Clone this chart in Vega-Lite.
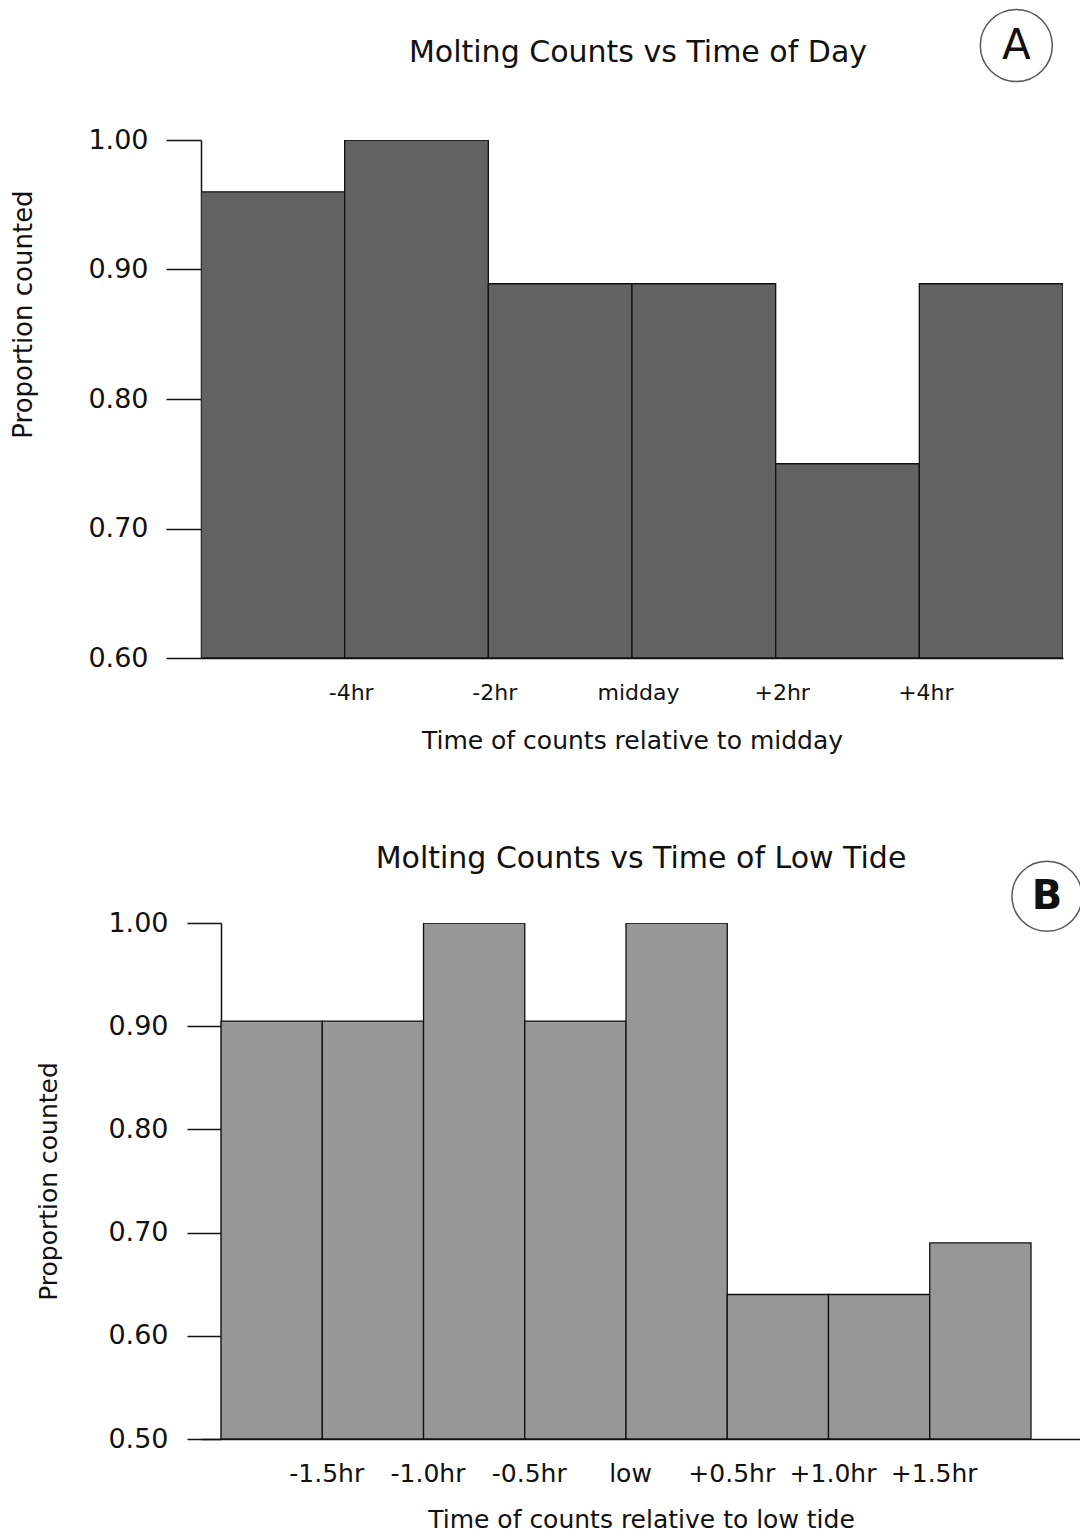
{
  "$schema": "https://vega.github.io/schema/vega-lite/v6.json",
  "background": "white",
  "padding": {"left": 10, "top": 6, "right": 0, "bottom": 0},
  "spacing": 91,
  "config": {
    "font": "DejaVu Sans",
    "view": {"stroke": null},
    "axis": {
      "grid": false,
      "domainColor": "#111",
      "domainWidth": 1.5,
      "tickColor": "#111",
      "tickWidth": 1.5,
      "labelColor": "#111",
      "titleColor": "#111",
      "labelFont": "DejaVu Sans",
      "titleFont": "DejaVu Sans",
      "titleFontWeight": "normal",
      "titleFontSize": 25
    },
    "title": {"font": "DejaVu Sans", "fontSize": 30, "fontWeight": "normal", "color": "#111"}
  },
  "vconcat": [
    {
      "title": {"text": "Molting Counts vs Time of Day", "offset": -62, "dx": 6},
      "width": 862,
      "height": 518,
      "layer": [
        {
          "data": {
            "values": [
              {"hour_start": -6, "hour_end": -4, "proportion": 0.96},
              {"hour_start": -4, "hour_end": -2, "proportion": 1.0},
              {"hour_start": -2, "hour_end": 0, "proportion": 0.889},
              {"hour_start": 0, "hour_end": 2, "proportion": 0.889},
              {"hour_start": 2, "hour_end": 4, "proportion": 0.75},
              {"hour_start": 4, "hour_end": 6, "proportion": 0.889}
            ]
          },
          "mark": {"type": "bar", "fill": "#626262", "stroke": "#111", "strokeWidth": 1.3, "clip": true},
          "encoding": {
            "x": {
              "field": "hour_start",
              "type": "quantitative",
              "scale": {"domain": [-6, 6], "nice": false, "zero": false},
              "axis": {
                "title": "Time of counts relative to midday",
                "values": [-4, -2, 0, 2, 4],
                "labelExpr": "datum.value === 0 ? 'midday' : (datum.value < 0 ? '-' : '+') + abs(datum.value) + 'hr'",
                "ticks": false,
                "labelFontSize": 22,
                "labelPadding": 24,
                "labelOffset": 6,
                "titlePadding": 25
              }
            },
            "x2": {"field": "hour_end"},
            "y": {
              "field": "proportion",
              "type": "quantitative",
              "scale": {"domain": [0.6, 1.0], "nice": false, "zero": false},
              "axis": {
                "title": "Proportion counted",
                "titleFontSize": 26,
                "titleY": 174,
                "values": [0.6, 0.7, 0.8, 0.9, 1.0],
                "format": ".2f",
                "tickSize": 35,
                "labelFontSize": 27,
                "labelPadding": 18,
                "titlePadding": 51
              }
            },
            "y2": {"datum": 0.6}
          }
        },
        {
          "data": {"values": [{"panel": "A"}]},
          "mark": {"type": "point", "shape": "circle", "size": 5184, "stroke": "#111", "strokeWidth": 1.5, "filled": false, "clip": false},
          "encoding": {
            "x": {"datum": 5.35, "type": "quantitative"},
            "y": {"datum": 1.073, "type": "quantitative"}
          }
        },
        {
          "data": {"values": [{"panel": "A"}]},
          "mark": {"type": "text", "fontSize": 42, "color": "#111", "baseline": "middle", "align": "center", "dy": 1, "clip": false},
          "encoding": {
            "x": {"datum": 5.35, "type": "quantitative"},
            "y": {"datum": 1.073, "type": "quantitative"},
            "text": {"field": "panel"}
          }
        }
      ]
    },
    {
      "title": {"text": "Molting Counts vs Time of Low Tide", "offset": -16},
      "width": 880,
      "height": 516,
      "layer": [
        {
          "data": {
            "values": [
              {"hour_start": -2.0, "hour_end": -1.5, "proportion": 0.905},
              {"hour_start": -1.5, "hour_end": -1.0, "proportion": 0.905},
              {"hour_start": -1.0, "hour_end": -0.5, "proportion": 1.0},
              {"hour_start": -0.5, "hour_end": 0.0, "proportion": 0.905},
              {"hour_start": 0.0, "hour_end": 0.5, "proportion": 1.0},
              {"hour_start": 0.5, "hour_end": 1.0, "proportion": 0.64},
              {"hour_start": 1.0, "hour_end": 1.5, "proportion": 0.64},
              {"hour_start": 1.5, "hour_end": 2.0, "proportion": 0.69}
            ]
          },
          "mark": {"type": "bar", "fill": "#979797", "stroke": "#111", "strokeWidth": 1.3, "clip": true},
          "encoding": {
            "x": {
              "field": "hour_start",
              "type": "quantitative",
              "scale": {"domain": [-2.099, 2.247], "nice": false, "zero": false},
              "axis": {
                "title": "Time of counts relative to low tide",
                "values": [-1.5, -1.0, -0.5, 0, 0.5, 1.0, 1.5],
                "labelExpr": "datum.value === 0 ? 'low' : (datum.value < 0 ? '-' : '+') + format(abs(datum.value), '.1f') + 'hr'",
                "ticks": false,
                "labelFontSize": 25,
                "labelPadding": 22,
                "labelOffset": 4,
                "titlePadding": 21
              }
            },
            "x2": {"field": "hour_end"},
            "y": {
              "field": "proportion",
              "type": "quantitative",
              "scale": {"domain": [0.5, 1.0], "nice": false, "zero": false},
              "axis": {
                "title": "Proportion counted",
                "values": [0.5, 0.6, 0.7, 0.8, 0.9, 1.0],
                "format": ".2f",
                "offset": -20,
                "tickSize": 34,
                "labelFontSize": 27,
                "labelPadding": 19,
                "titlePadding": 46
              }
            },
            "y2": {"datum": 0.5}
          }
        },
        {
          "data": {"values": [{"panel": "B"}]},
          "mark": {"type": "point", "shape": "circle", "size": 4900, "stroke": "#111", "strokeWidth": 1.5, "filled": false, "clip": false},
          "encoding": {
            "x": {"datum": 2.079, "type": "quantitative"},
            "y": {"datum": 1.026, "type": "quantitative"}
          }
        },
        {
          "data": {"values": [{"panel": "B"}]},
          "mark": {"type": "text", "fontSize": 40, "fontWeight": "bold", "color": "#111", "baseline": "middle", "align": "center", "dy": 1, "clip": false},
          "encoding": {
            "x": {"datum": 2.079, "type": "quantitative"},
            "y": {"datum": 1.026, "type": "quantitative"},
            "text": {"field": "panel"}
          }
        }
      ]
    }
  ]
}
